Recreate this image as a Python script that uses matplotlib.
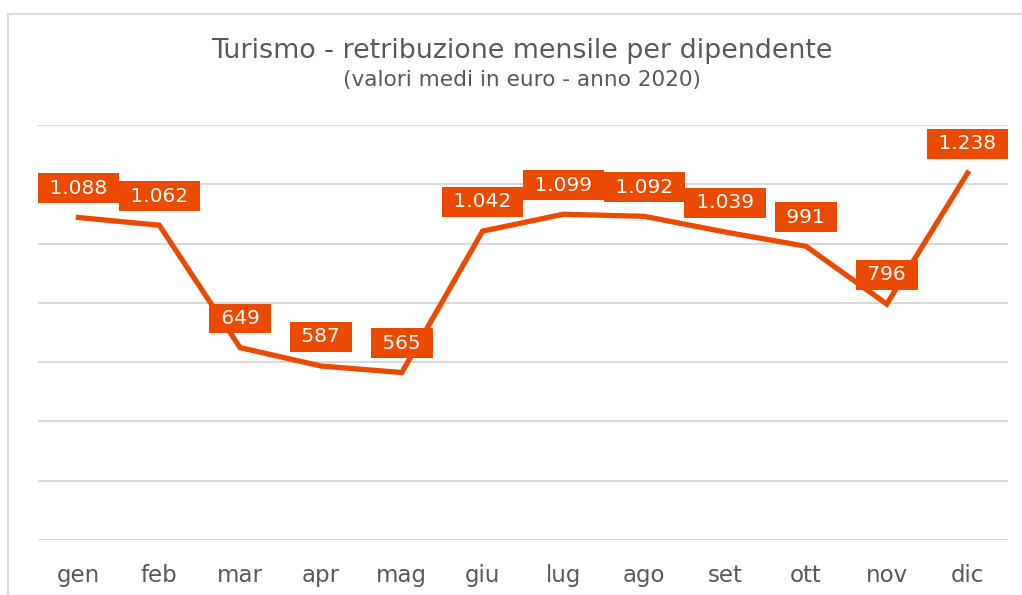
import matplotlib.pyplot as plt
from matplotlib.patches import Rectangle

mesi = ['gen', 'feb', 'mar', 'apr', 'mag', 'giu', 'lug', 'ago', 'set', 'ott', 'nov', 'dic']
valori = [1088, 1062, 649, 587, 565, 1042, 1099, 1092, 1039, 991, 796, 1238]
etichette = ['1.088', '1.062', '649', '587', '565', '1.042', '1.099', '1.092', '1.039', '991', '796', '1.238']

arancio = '#EA4A02'
grigio = '#595959'

plt.rcParams['font.family'] = 'DejaVu Sans'

fig = plt.figure(figsize=(10.22, 5.95), dpi=100)
ax = fig.add_axes([0.0372, 0.0924, 0.9491, 0.6975])

# bordo grigio attorno al grafico
fig.patches.append(Rectangle((8 / 1022, -0.05), 1.1, 1 - 14 / 595 + 0.05, transform=fig.transFigure,
                             fill=False, edgecolor='#D9D9D9', linewidth=1.5))

x = range(len(mesi))
ax.plot(x, valori, color=arancio, linewidth=3.8, solid_joinstyle='miter', zorder=3)

for i, (v, t) in enumerate(zip(valori, etichette)):
    ax.annotate(' ' + t + ' ', (i, v), xytext=(0, 21), textcoords='offset points',
                ha='center', va='center', fontsize=14.5, color='white', zorder=4,
                bbox=dict(boxstyle='square,pad=0.27', facecolor=arancio, edgecolor='none'))

ax.set_xlim(-0.5, len(mesi) - 0.5)
ax.set_ylim(0, 1400)
ax.set_yticks(range(0, 1401, 200))
ax.yaxis.grid(True, color='#D9D9D9', linewidth=1.5)
ax.set_axisbelow(True)
ax.tick_params(axis='y', left=False, labelleft=False)
ax.tick_params(axis='x', length=0, pad=17, labelsize=16.5, labelcolor=grigio)
ax.set_xticks(list(x))
ax.set_xticklabels(mesi)
for s in ax.spines.values():
    s.set_visible(False)

fig.text(0.511, 0.915, 'Turismo - retribuzione mensile per dipendente', ha='center', va='center',
         fontsize=19.4, color=grigio)
fig.text(0.511, 0.866, '(valori medi in euro - anno 2020)', ha='center', va='center',
         fontsize=15.6, color=grigio)

fig.savefig('out.png', dpi=100)
